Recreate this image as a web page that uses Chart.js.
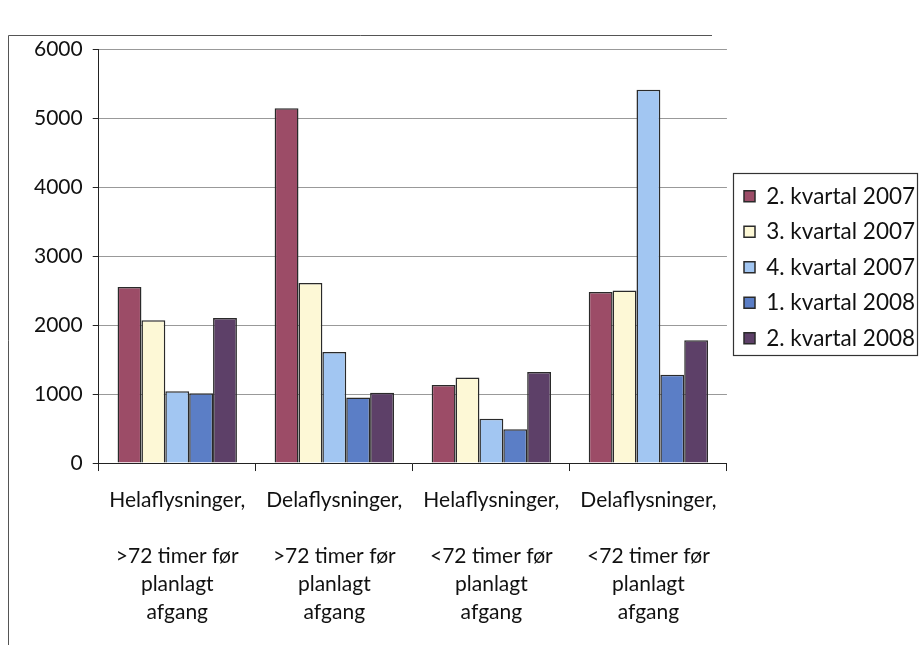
<!DOCTYPE html>
<html>
<head>
<meta charset="utf-8">
<script src="https://cdn.jsdelivr.net/npm/chart.js@4"></script>
<style>
  body { margin: 0; background: #fff; }
  #wrap { width: 921px; height: 649px; }
</style>
</head>
<body>
<div id="wrap"><canvas id="flyChart" width="921" height="649"></canvas></div>
<script>
// categories (multi-line labels)
var categories = [
    ['Helaflysninger,', '', '>72 timer før', 'planlagt', 'afgang'],
    ['Delaflysninger,', '', '>72 timer før', 'planlagt', 'afgang'],
    ['Helaflysninger,', '', '<72 timer før', 'planlagt', 'afgang'],
    ['Delaflysninger,', '', '<72 timer før', 'planlagt', 'afgang']
];
var seriesNames = ['2. kvartal 2007', '3. kvartal 2007', '4. kvartal 2007', '1. kvartal 2008', '2. kvartal 2008'];
var q2_2007 = [2550, 5140, 1130, 2480];
var q3_2007 = [2070, 2610, 1240, 2500];
var q4_2007 = [1040, 1610, 640, 5410];
var q1_2008 = [1010, 950, 490, 1280];
var q2_2008 = [2100, 1020, 1320, 1780];
var yTicks = [0, 1000, 2000, 3000, 4000, 5000, 6000];

var colors = ['#9c4c67', '#fdf8d6', '#a2c6f2', '#5b7ec6', '#5d4068'];
var values = [q2_2007, q3_2007, q4_2007, q1_2008, q2_2008];

var datasets = seriesNames.map(function(name, i) {
    return {
        label: name,
        data: values[i],
        backgroundColor: colors[i],
        borderColor: '#2a2a2a',
        borderWidth: 1.5,
        barPercentage: 1.0,
        categoryPercentage: 0.76
    };
});

// scanned page frame, and legend box placed like the original
var framePlugin = {
    id: 'frame',
    afterLayout: function(chart) {
        var lg = chart.legend;
        lg.left = 731;
        lg.right = 918;
        lg.top = 172;
        lg.bottom = 640;
    },
    afterDraw: function(chart) {
        var c = chart.ctx;
        c.save();
        c.strokeStyle = '#555';
        c.lineWidth = 1;
        c.beginPath();
        c.moveTo(8.5, 645);
        c.lineTo(8.5, 35.5);
        c.lineTo(712, 35.5);
        c.stroke();
        c.strokeStyle = '#333';
        c.lineWidth = 1.2;
        c.strokeRect(733.5, 173.5, 184, 182);
        c.restore();
    }
};

Chart.defaults.font.family = 'Lato, "Open Sans", sans-serif';
Chart.defaults.color = '#111';

var ctx = document.getElementById('flyChart').getContext('2d');
var myChart = new Chart(ctx, {
    type: 'bar',
    data: {
        labels: categories,
        datasets: datasets
    },
    plugins: [framePlugin],
    options: {
        responsive: false,
        animation: false,
        layout: {
            padding: { top: 49, left: 24, right: 0, bottom: 8 }
        },
        plugins: {
            tooltip: { enabled: false },
            legend: {
                position: 'right',
                align: 'start',
                labels: {
                    font: { size: 22.5 },
                    color: '#111',
                    boxWidth: 11,
                    boxHeight: 11,
                    padding: 13
                }
            }
        },
        scales: {
            x: {
                grid: {
                    display: true,
                    drawOnChartArea: false,
                    tickLength: 8,
                    color: '#222'
                },
                border: { color: '#222', width: 1 },
                ticks: {
                    font: { size: 21, lineHeight: 1.333 },
                    color: '#111',
                    maxRotation: 0,
                    autoSkip: false,
                    padding: 15
                }
            },
            y: {
                min: 0,
                max: 6000,
                afterBuildTicks: function(axis) {
                    axis.ticks = yTicks.map(function(v) { return { value: v }; });
                },
                grid: {
                    color: '#999',
                    tickLength: 6,
                    tickColor: '#222'
                },
                border: { color: '#222', width: 1 },
                ticks: {
                    font: { size: 21 },
                    color: '#111',
                    padding: 10,
                    callback: function(v) { return String(v); }
                }
            }
        }
    }
});
</script>
</body>
</html>
